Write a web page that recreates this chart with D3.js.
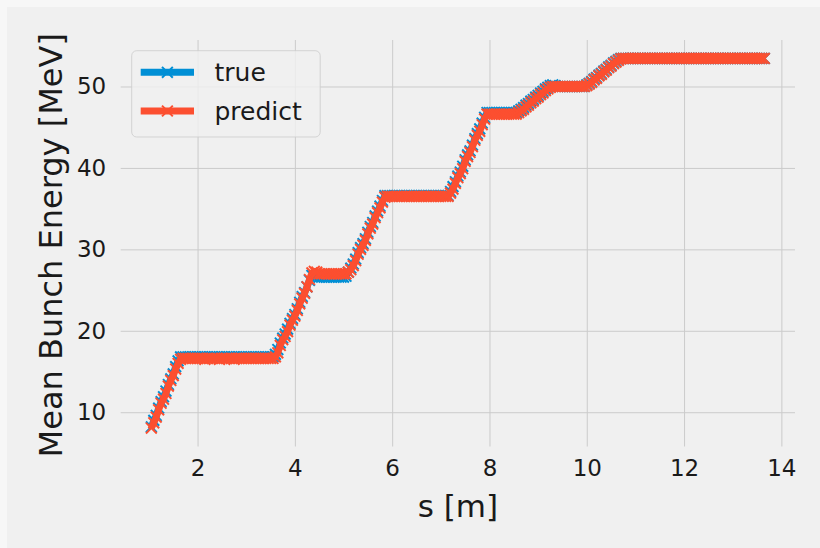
<!DOCTYPE html>
<html>
<head>
<meta charset="utf-8">
<script src="https://cdn.jsdelivr.net/npm/d3@7"></script>
<style>
  html, body { margin: 0; padding: 0; background: #f7f7f7; }
  svg { display: block; }
  text { font-family: "DejaVu Sans", sans-serif; fill: #1a1a1a; }
</style>
</head>
<body>
<svg id="chart" width="820" height="548"></svg>
<script>
// Beam position along the linac [m]
const s = [
  1.05, 1.10, 1.15, 1.20, 1.25, 1.30, 1.35, 1.40, 1.45, 1.50, 1.55, 1.60, 1.65, 1.70, 1.75, 1.80, 1.85, 1.90, 1.95, 2.00,
  2.05, 2.10, 2.15, 2.20, 2.25, 2.30, 2.35, 2.40, 2.45, 2.50, 2.55, 2.60, 2.65, 2.70, 2.75, 2.80, 2.85, 2.90, 2.95, 3.00,
  3.05, 3.10, 3.15, 3.20, 3.25, 3.30, 3.35, 3.40, 3.45, 3.50, 3.55, 3.60, 3.65, 3.70, 3.75, 3.80, 3.85, 3.90, 3.95, 4.00,
  4.05, 4.10, 4.15, 4.20, 4.25, 4.30, 4.35, 4.40, 4.45, 4.50, 4.55, 4.60, 4.65, 4.70, 4.75, 4.80, 4.85, 4.90, 4.95, 5.00,
  5.05, 5.10, 5.15, 5.20, 5.25, 5.30, 5.35, 5.40, 5.45, 5.50, 5.55, 5.60, 5.65, 5.70, 5.75, 5.80, 5.85, 5.90, 5.95, 6.00,
  6.05, 6.10, 6.15, 6.20, 6.25, 6.30, 6.35, 6.40, 6.45, 6.50, 6.55, 6.60, 6.65, 6.70, 6.75, 6.80, 6.85, 6.90, 6.95, 7.00,
  7.05, 7.10, 7.15, 7.20, 7.25, 7.30, 7.35, 7.40, 7.45, 7.50, 7.55, 7.60, 7.65, 7.70, 7.75, 7.80, 7.85, 7.90, 7.95, 8.00,
  8.05, 8.10, 8.15, 8.20, 8.25, 8.30, 8.35, 8.40, 8.45, 8.50, 8.55, 8.60, 8.65, 8.70, 8.75, 8.80, 8.85, 8.90, 8.95, 9.00,
  9.05, 9.10, 9.15, 9.20, 9.25, 9.30, 9.35, 9.40, 9.45, 9.50, 9.55, 9.60, 9.65, 9.70, 9.75, 9.80, 9.85, 9.90, 9.95, 10.00,
  10.05, 10.10, 10.15, 10.20, 10.25, 10.30, 10.35, 10.40, 10.45, 10.50, 10.55, 10.60, 10.65, 10.70, 10.75, 10.80, 10.85, 10.90, 10.95, 11.00,
  11.05, 11.10, 11.15, 11.20, 11.25, 11.30, 11.35, 11.40, 11.45, 11.50, 11.55, 11.60, 11.65, 11.70, 11.75, 11.80, 11.85, 11.90, 11.95, 12.00,
  12.05, 12.10, 12.15, 12.20, 12.25, 12.30, 12.35, 12.40, 12.45, 12.50, 12.55, 12.60, 12.65, 12.70, 12.75, 12.80, 12.85, 12.90, 12.95, 13.00,
  13.05, 13.10, 13.15, 13.20, 13.25, 13.30, 13.35, 13.40, 13.45, 13.50, 13.55, 13.60, 13.65
];

// Simulated mean bunch energy [MeV]
const trueEnergy = [
  8.2, 9.0, 9.6, 10.5, 11.3, 11.9, 12.6, 13.4, 14.1, 14.7, 15.6, 16.3, 16.8, 16.8, 16.8, 16.8, 16.8, 16.8, 16.8, 16.8,
  16.8, 16.8, 16.8, 16.8, 16.8, 16.8, 16.8, 16.8, 16.8, 16.8, 16.8, 16.8, 16.8, 16.8, 16.8, 16.8, 16.8, 16.8, 16.8, 16.8,
  16.8, 16.8, 16.8, 16.8, 16.8, 16.8, 16.8, 16.8, 16.8, 16.8, 16.8, 17.1, 17.7, 18.5, 19.1, 19.6, 20.2, 20.9, 21.5, 22.0,
  22.7, 23.5, 24.2, 24.7, 25.4, 26.2, 26.8, 26.7, 26.6, 26.6, 26.6, 26.6, 26.6, 26.6, 26.6, 26.6, 26.6, 26.6, 26.6, 26.6,
  26.7, 27.2, 27.7, 28.2, 28.8, 29.6, 30.2, 30.7, 31.3, 32.1, 32.8, 33.3, 34.1, 34.7, 35.3, 36.0, 36.6, 36.6, 36.6, 36.6,
  36.6, 36.6, 36.6, 36.6, 36.6, 36.6, 36.6, 36.6, 36.6, 36.6, 36.6, 36.6, 36.6, 36.6, 36.6, 36.6, 36.6, 36.6, 36.6, 36.6,
  36.6, 36.6, 36.6, 37.1, 37.7, 38.3, 39.0, 39.5, 40.2, 41.0, 41.6, 42.1, 42.8, 43.6, 44.2, 44.8, 45.5, 46.2, 46.8, 46.8,
  46.8, 46.8, 46.8, 46.8, 46.8, 46.8, 46.8, 46.8, 46.8, 46.8, 46.8, 47.0, 47.2, 47.4, 47.7, 47.9, 48.2, 48.4, 48.7, 48.9,
  49.2, 49.4, 49.7, 49.9, 50.1, 50.2, 50.1, 50.0, 50.0, 50.0, 50.0, 50.0, 50.0, 50.0, 50.0, 50.0, 50.0, 50.0, 50.0, 50.2,
  50.4, 50.6, 50.9, 51.1, 51.4, 51.6, 51.9, 52.1, 52.4, 52.6, 52.9, 53.1, 53.3, 53.44, 53.44, 53.44, 53.44, 53.44, 53.44, 53.44,
  53.44, 53.44, 53.44, 53.44, 53.44, 53.44, 53.44, 53.44, 53.44, 53.44, 53.44, 53.44, 53.44, 53.44, 53.44, 53.44, 53.44, 53.44, 53.44, 53.44,
  53.44, 53.44, 53.44, 53.44, 53.44, 53.44, 53.44, 53.44, 53.44, 53.44, 53.44, 53.44, 53.44, 53.44, 53.44, 53.44, 53.44, 53.44, 53.44, 53.44,
  53.44, 53.44, 53.44, 53.44, 53.44, 53.44, 53.44, 53.44, 53.44, 53.44, 53.44, 53.44, 53.44
];

// Model prediction of the mean bunch energy [MeV]
const predictEnergy = [
  8.06, 8.7, 9.4, 10.3, 11.1, 11.6, 12.3, 13.2, 13.9, 14.5, 15.3, 16.0, 16.5, 16.6, 16.6, 16.6, 16.6, 16.6, 16.6, 16.6,
  16.6, 16.6, 16.5, 16.6, 16.6, 16.6, 16.6, 16.6, 16.5, 16.6, 16.6, 16.6, 16.6, 16.6, 16.5, 16.6, 16.6, 16.6, 16.6, 16.6,
  16.6, 16.6, 16.6, 16.6, 16.6, 16.6, 16.6, 16.6, 16.6, 16.6, 16.6, 16.8, 17.3, 18.2, 18.9, 19.3, 19.9, 20.7, 21.3, 21.8,
  22.5, 23.3, 24.0, 24.6, 25.4, 26.3, 27.1, 27.3, 27.2, 27.0, 27.0, 27.0, 27.0, 27.0, 27.0, 27.0, 27.0, 27.0, 27.0, 27.0,
  27.0, 27.2, 27.5, 28.0, 28.6, 29.4, 30.0, 30.5, 31.1, 31.9, 32.6, 33.1, 33.9, 34.5, 35.1, 35.8, 36.4, 36.5, 36.5, 36.5,
  36.5, 36.5, 36.5, 36.5, 36.5, 36.5, 36.5, 36.5, 36.5, 36.5, 36.5, 36.5, 36.5, 36.5, 36.5, 36.5, 36.5, 36.5, 36.5, 36.5,
  36.5, 36.5, 36.5, 36.9, 37.4, 38.1, 38.8, 39.3, 39.9, 40.8, 41.4, 41.9, 42.6, 43.4, 44.0, 44.5, 45.3, 46.0, 46.6, 46.6,
  46.6, 46.6, 46.6, 46.6, 46.6, 46.6, 46.6, 46.6, 46.6, 46.6, 46.6, 46.8, 47.0, 47.2, 47.5, 47.7, 48.0, 48.2, 48.5, 48.7,
  49.0, 49.2, 49.5, 49.7, 49.9, 50.0, 50.0, 50.0, 50.0, 50.0, 50.0, 50.0, 50.0, 50.0, 50.0, 50.0, 50.0, 50.0, 50.0, 50.1,
  50.3, 50.5, 50.8, 51.0, 51.3, 51.5, 51.8, 52.0, 52.3, 52.5, 52.8, 53.0, 53.2, 53.4, 53.44, 53.44, 53.44, 53.44, 53.44, 53.44,
  53.44, 53.44, 53.44, 53.44, 53.44, 53.44, 53.44, 53.44, 53.44, 53.44, 53.44, 53.44, 53.44, 53.44, 53.44, 53.44, 53.44, 53.44, 53.44, 53.44,
  53.44, 53.44, 53.44, 53.44, 53.44, 53.44, 53.44, 53.44, 53.44, 53.44, 53.44, 53.44, 53.44, 53.44, 53.44, 53.44, 53.44, 53.44, 53.44, 53.44,
  53.44, 53.44, 53.44, 53.44, 53.44, 53.44, 53.44, 53.44, 53.44, 53.44, 53.44, 53.44, 53.44
];

const xTicks = [2, 4, 6, 8, 10, 12, 14];
const yTicks = [10, 20, 30, 40, 50];
const seriesNames = ["true", "predict"];
const seriesColors = ["#008fd5", "#fc4f30"];

const svg = d3.select("#chart");

// figure background, with a thin lighter margin on the top and left edges
svg.append("rect").attr("x", 7).attr("y", 7).attr("width", 813).attr("height", 541).attr("fill", "#f0f0f0");

const plot = { left: 120.7, right: 795, top: 40, bottom: 446.5 };

// 5% padding around the data extent on both axes
function padded(ext) {
  const d = ext[1] - ext[0];
  return [ext[0] - 0.05 * d, ext[1] + 0.05 * d];
}
const xDomain = padded(d3.extent(s));
const yDomain = padded(d3.extent(trueEnergy.concat(predictEnergy)));

const x = d3.scaleLinear().domain(xDomain).range([plot.left, plot.right]);
const y = d3.scaleLinear().domain(yDomain).range([plot.bottom, plot.top]);

svg.append("rect")
  .attr("x", plot.left).attr("y", plot.top)
  .attr("width", plot.right - plot.left).attr("height", plot.bottom - plot.top)
  .attr("fill", "#f0f0f0");

// grid + tick labels
const xAxis = svg.append("g")
  .attr("transform", `translate(0,${plot.bottom})`)
  .call(d3.axisBottom(x).tickValues(xTicks).tickFormat(d3.format("d"))
    .tickSizeInner(-(plot.bottom - plot.top)).tickSizeOuter(0).tickPadding(13));
const yAxis = svg.append("g")
  .attr("transform", `translate(${plot.left},0)`)
  .call(d3.axisLeft(y).tickValues(yTicks).tickFormat(d3.format("d"))
    .tickSizeInner(-(plot.right - plot.left)).tickSizeOuter(0).tickPadding(14.5));

[xAxis, yAxis].forEach(g => {
  g.select(".domain").remove();
  g.selectAll(".tick line").attr("stroke", "#cbcbcb").attr("stroke-width", 1);
  g.selectAll(".tick text")
    .attr("font-family", "DejaVu Sans").attr("font-size", 23).attr("fill", "#1a1a1a");
});

// axis titles
svg.append("text")
  .attr("x", (plot.left + plot.right) / 2).attr("y", 516.5)
  .attr("text-anchor", "middle").attr("font-size", 31)
  .text("s [m]");
svg.append("text")
  .attr("transform", `translate(62,${(plot.top + plot.bottom) / 2 + 2}) rotate(-90)`)
  .attr("text-anchor", "middle").attr("font-size", 32)
  .text("Mean Bunch Energy [MeV]");

// series: thick line plus 'x' markers at every sample
const lineWidth = 6.9;
const markerHalf = 5.4;
const markerStroke = 2.0;

function xMarker(sel, color) {
  sel.append("path")
    .attr("d", `M${-markerHalf},${-markerHalf}L${markerHalf},${markerHalf}M${-markerHalf},${markerHalf}L${markerHalf},${-markerHalf}`)
    .attr("stroke", color).attr("stroke-width", markerStroke).attr("fill", "none");
}

const line = d3.line().x(d => x(d[0])).y(d => y(d[1]));
const seriesData = [
  s.map((v, i) => [v, trueEnergy[i]]),
  s.map((v, i) => [v, predictEnergy[i]])
];

svg.append("clipPath").attr("id", "plotClip")
  .append("rect").attr("x", plot.left).attr("y", plot.top)
  .attr("width", plot.right - plot.left).attr("height", plot.bottom - plot.top);

const series = svg.append("g").attr("clip-path", "url(#plotClip)");
seriesData.forEach((data, k) => {
  const g = series.append("g");
  g.append("path")
    .datum(data)
    .attr("d", line)
    .attr("fill", "none")
    .attr("stroke", seriesColors[k])
    .attr("stroke-width", lineWidth)
    .attr("stroke-linejoin", "round")
    .attr("stroke-linecap", "butt");
  g.selectAll("g.mk").data(data).join("g")
    .attr("class", "mk")
    .attr("transform", d => `translate(${x(d[0])},${y(d[1])})`)
    .each(function () { xMarker(d3.select(this), seriesColors[k]); });
});

// legend
const legend = svg.append("g");
legend.append("rect")
  .attr("x", 131.7).attr("y", 50.7).attr("width", 188.5).attr("height", 86.3)
  .attr("rx", 5).attr("ry", 5)
  .attr("fill", "#f0f0f0").attr("fill-opacity", 0.8)
  .attr("stroke", "#cccccc").attr("stroke-opacity", 0.8).attr("stroke-width", 1);

const legendRows = [72.3, 111];
seriesNames.forEach((name, k) => {
  const ly = legendRows[k];
  legend.append("line")
    .attr("x1", 140.7).attr("x2", 194).attr("y1", ly).attr("y2", ly)
    .attr("stroke", seriesColors[k]).attr("stroke-width", lineWidth);
  const m = legend.append("g").attr("transform", `translate(167.4,${ly})`);
  xMarker(m, seriesColors[k]);
  legend.append("text")
    .attr("x", 214.5).attr("y", ly + 9)
    .attr("font-size", 25)
    .text(name);
});
</script>
</body>
</html>
